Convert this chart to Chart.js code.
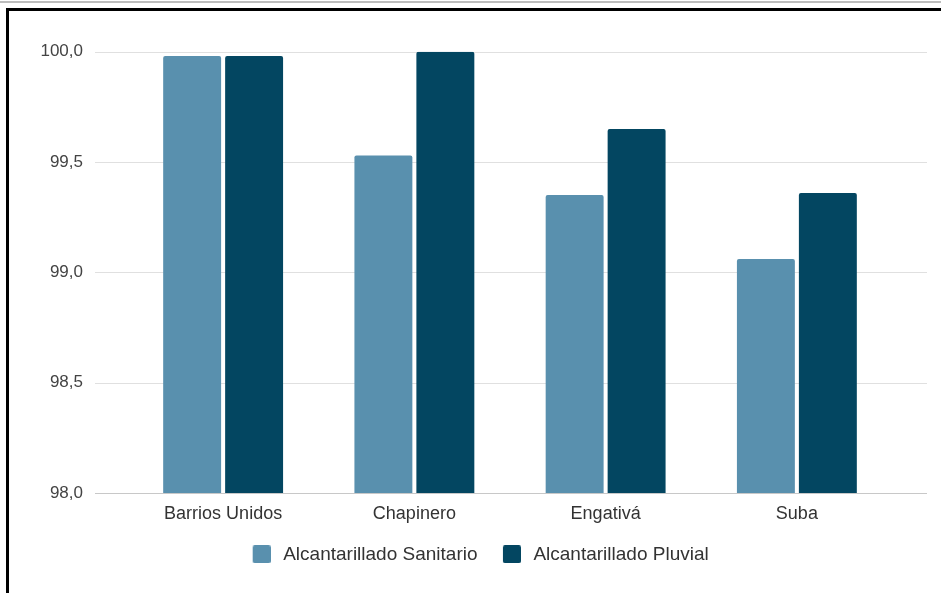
<!DOCTYPE html>
<html>
<head>
<meta charset="utf-8">
<script src="https://cdn.jsdelivr.net/npm/chart.js@4"></script>
<style>
    body { margin: 0; background: #fff; width: 941px; height: 593px; overflow: hidden; position: relative; }
    #topline { position: absolute; left: 0; top: 1px; width: 941px; height: 2px; background: #bdbdbd; }
    #frame { position: absolute; left: 6px; top: 8px; width: 940px; height: 590px; border-top: 3px solid #000; border-left: 3px solid #000; }
    #wrap { position: absolute; left: 9px; top: 11px; width: 932px; height: 582px; }
</style>
</head>
<body>
<div id="topline"></div>
<div id="frame"></div>
<div id="wrap"><canvas id="chart"></canvas></div>
<script>
const localidades = ['Barrios Unidos', 'Chapinero', 'Engativá', 'Suba'];
const sanitario = [99.98, 99.53, 99.35, 99.06];
const pluvial = [99.98, 100.0, 99.65, 99.36];
const yTicks = [98.0, 98.5, 99.0, 99.5, 100.0];

const fontFamily = 'Arial, "Liberation Sans", sans-serif';
const colorSanitario = '#5990ae';
const colorPluvial = '#034661';

// legend marker: square on the right of a transparent strip,
// gives the wider spacing the reference legend has
function swatch(color) {
    const c = document.createElement('canvas');
    c.width = 30;
    c.height = 18;
    const g = c.getContext('2d');
    g.fillStyle = color;
    g.beginPath();
    g.roundRect(12, 0, 18, 18, 2);
    g.fill();
    return c;
}

// gridlines in the reference run wider than the category band
const wideGrid = {
    id: 'wideGrid',
    beforeDatasetsDraw(chart) {
        const ctx = chart.ctx;
        const y = chart.scales.y;
        ctx.save();
        ctx.lineWidth = 1;
        yTicks.forEach((v, i) => {
            const py = Math.round(y.getPixelForValue(v)) + 0.5;
            ctx.strokeStyle = i === 0 ? '#c8c8c8' : '#e0e0e0';
            ctx.beginPath();
            ctx.moveTo(86, py);
            ctx.lineTo(918, py);
            ctx.stroke();
        });
        ctx.restore();
    }
};

// empty axis used only to reserve horizontal space
function spacer(position, width, weight) {
    return {
        type: 'linear',
        position: position,
        weight: weight,
        afterFit(scale) { scale.width = width; },
        grid: { display: false, drawTicks: false },
        border: { display: false },
        ticks: { display: false }
    };
}

new Chart(document.getElementById('chart'), {
    type: 'bar',
    data: {
        labels: localidades,
        datasets: [
            {
                label: 'Alcantarillado Sanitario',
                data: sanitario,
                backgroundColor: colorSanitario,
                pointStyle: swatch(colorSanitario),
                borderRadius: { topLeft: 2, topRight: 2 },
                borderSkipped: false
            },
            {
                label: 'Alcantarillado Pluvial',
                data: pluvial,
                backgroundColor: colorPluvial,
                pointStyle: swatch(colorPluvial),
                borderRadius: { topLeft: 2, topRight: 2 },
                borderSkipped: false
            }
        ]
    },
    plugins: [wideGrid],
    options: {
        responsive: true,
        maintainAspectRatio: false,
        animation: false,
        datasets: {
            bar: {
                categoryPercentage: 0.648,
                barPercentage: 0.935
            }
        },
        layout: {
            padding: { top: 40.7, left: 3.4, right: 7, bottom: 19.2 }
        },
        plugins: {
            tooltip: { enabled: false },
            legend: {
                position: 'bottom',
                labels: {
                    usePointStyle: true,
                    pointStyleWidth: 36,
                    boxHeight: 18,
                    padding: 10.4,
                    color: '#333',
                    font: { family: fontFamily, size: 19 }
                }
            }
        },
        scales: {
            x: {
                grid: { display: false, drawTicks: false },
                border: { display: false },
                ticks: {
                    padding: 9.9,
                    color: '#333',
                    font: { family: fontFamily, size: 18 }
                }
            },
            y: {
                min: 98,
                max: 100,
                weight: 1,
                afterFit(scale) { scale.width = 70.6; },
                afterBuildTicks(scale) { scale.ticks = yTicks.map(v => ({ value: v })); },
                grid: { display: false, drawTicks: false },
                border: { display: false },
                ticks: {
                    padding: 0,
                    color: '#444',
                    font: { family: fontFamily, size: 17 },
                    callback: (v) => Number(v).toFixed(1).replace('.', ',')
                }
            },
            gapLeft: spacer('left', 44.5, 0),
            gapRight: spacer('right', 41.5, 0)
        }
    }
});
</script>
</body>
</html>
